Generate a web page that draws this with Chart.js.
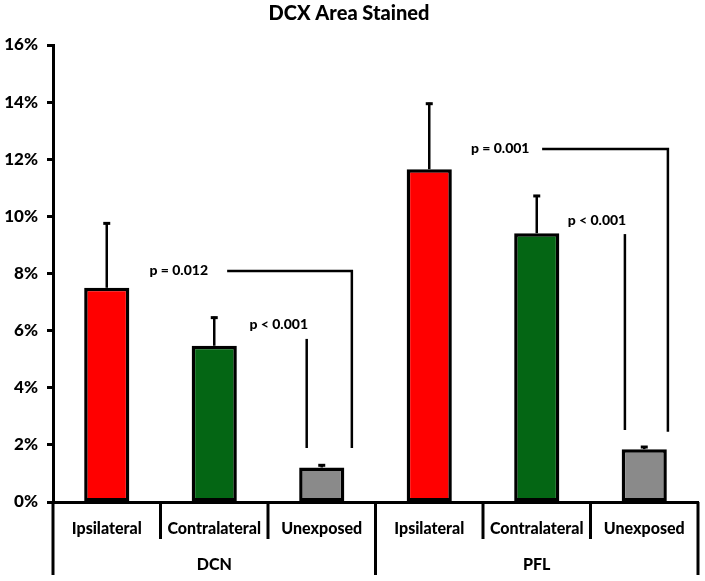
<!DOCTYPE html>
<html>
<head>
<meta charset="utf-8">
<title>DCX Area Stained</title>
<script src="https://cdn.jsdelivr.net/npm/chart.js@4.4.1/dist/chart.umd.min.js"></script>
<style>
  html, body { margin: 0; padding: 0; background: #fff; }
  #wrap { width: 705px; height: 581px; }
</style>
</head>
<body>
<div id="wrap"><canvas id="grafico"></canvas></div>
<script>
/* ── Datos ───────────────────────────────────────────── */
const regiones    = ['DCN', 'PFL'];
const condiciones = ['Ipsilateral', 'Contralateral', 'Unexposed'];
const medias      = [7.50, 5.47, 1.21, 11.65, 9.41, 1.85];   // % área teñida
const errores     = [2.29, 1.02, 0.11, 2.33, 1.34, 0.11];    // barra de error (+)
const ejeY        = [0, 2, 4, 6, 8, 10, 12, 14, 16];

// comparaciones: índice de categoría (fraccional) y nivel en %
const comparaciones = [
  { texto: 'p = 0.012', tx: 0.67, ty: 8.10, x1: 1.12, x2: 2.28, y: 8.09, yFin: 1.89 },
  { texto: 'p = 0.001', tx: 3.66, ty: 12.39, x1: 4.05, x2: 5.22, y: 12.36, yFin: 2.46 },
];
const simples = [
  { texto: 'p < 0.001', tx: 1.60, ty: 6.23, x: 1.86, y1: 5.71, y2: 1.89 },
  { texto: 'p < 0.001', tx: 4.56, ty: 9.87, x: 4.82, y1: 9.38, y2: 2.52 },
];

const colores = ['#ff0000', '#046614', '#8a8a8a'];
const FUENTE = 'Lato';
const PESO = '900';

const etiquetas = [];
regiones.forEach(() => condiciones.forEach(c => etiquetas.push(c)));

/* ── Plugin: barras de error, p-valores y eje agrupado ── */
const extras = {
  id: 'extras',
  afterDatasetsDraw(chart) {
    const { ctx, scales: { x, y }, chartArea } = chart;
    ctx.save();
    ctx.strokeStyle = '#000';
    ctx.fillStyle = '#000';

    // barras de error
    medias.forEach((m, i) => {
      const px = x.getPixelForValue(i);
      const y0 = y.getPixelForValue(m);
      const y1 = y.getPixelForValue(m + errores[i]);
      ctx.lineWidth = 2.5;
      ctx.beginPath();
      ctx.moveTo(px, y0);
      ctx.lineTo(px, y1);
      ctx.stroke();
      ctx.lineWidth = 3;
      ctx.beginPath();
      ctx.moveTo(px - 3.5, y1 + 1);
      ctx.lineTo(px + 3.5, y1 + 1);
      ctx.stroke();
    });

    ctx.font = `${PESO} 14px ${FUENTE}`;
    ctx.textAlign = 'center';
    ctx.textBaseline = 'middle';
    ctx.lineWidth = 2.5;

    comparaciones.forEach(c => {
      ctx.fillText(c.texto, x.getPixelForValue(c.tx), y.getPixelForValue(c.ty));
      const xa = x.getPixelForValue(c.x1), xb = x.getPixelForValue(c.x2);
      ctx.beginPath();
      ctx.moveTo(xa, y.getPixelForValue(c.y));
      ctx.lineTo(xb, y.getPixelForValue(c.y));
      ctx.lineTo(xb, y.getPixelForValue(c.yFin));
      ctx.stroke();
    });

    simples.forEach(s => {
      ctx.fillText(s.texto, x.getPixelForValue(s.tx), y.getPixelForValue(s.ty));
      const px = x.getPixelForValue(s.x);
      ctx.beginPath();
      ctx.moveTo(px, y.getPixelForValue(s.y1));
      ctx.lineTo(px, y.getPixelForValue(s.y2));
      ctx.stroke();
    });

    // eje de categorías agrupado
    const base = chartArea.bottom;
    ctx.lineWidth = 3;
    for (let i = 0; i <= etiquetas.length; i++) {
      const px = x.getPixelForValue(i - 0.5);
      const largo = (i % condiciones.length === 0) ? 73 : 37;
      ctx.beginPath();
      ctx.moveTo(px, base);
      ctx.lineTo(px, base + largo);
      ctx.stroke();
    }
    ctx.font = `${PESO} 16px ${FUENTE}`;
    regiones.forEach((r, g) => {
      const centro = x.getPixelForValue(g * condiciones.length + 1);
      ctx.fillText(r, centro, base + 63);
    });
    ctx.restore();
  }
};

new Chart(document.getElementById('grafico'), {
  type: 'bar',
  data: {
    labels: etiquetas,
    datasets: [{
      data: medias,
      backgroundColor: etiquetas.map((_, i) => colores[i % colores.length]),
      borderColor: '#000',
      borderWidth: 3.5,
      borderSkipped: false,
      barPercentage: 0.42,
      categoryPercentage: 1,
    }]
  },
  options: {
    responsive: true,
    maintainAspectRatio: false,
    animation: false,
    layout: { padding: { left: 0, right: 7, top: 0, bottom: 0 } },
    plugins: {
      legend: { display: false },
      tooltip: { enabled: false },
      title: {
        display: true,
        text: 'DCX Area Stained',
        color: '#000',
        font: { family: FUENTE, size: 20, weight: PESO },
        padding: { top: 2, bottom: 19 },
      },
    },
    scales: {
      x: {
        offset: true,
        grid: { display: false },
        border: { display: true, color: '#000', width: 3 },
        ticks: {
          color: '#000',
          padding: 9,
          maxRotation: 0,
          autoSkip: false,
          font: { family: FUENTE, size: 16, weight: PESO },
        },
        afterFit(s) { s.height = 79; },
      },
      y: {
        min: ejeY[0],
        max: ejeY[ejeY.length - 1],
        afterBuildTicks(s) { s.ticks = ejeY.map(v => ({ value: v })); },
        grid: {
          drawOnChartArea: false,
          drawTicks: true,
          tickLength: 6,
          tickWidth: 3,
          tickColor: '#000',
        },
        border: { display: true, color: '#000', width: 3 },
        ticks: {
          color: '#000',
          padding: 9,
          callback: v => v + '%',
          font: { family: FUENTE, size: 17, weight: PESO },
        },
        afterFit(s) { s.width = 53; },
      }
    }
  },
  plugins: [extras]
});
</script>
</body>
</html>
